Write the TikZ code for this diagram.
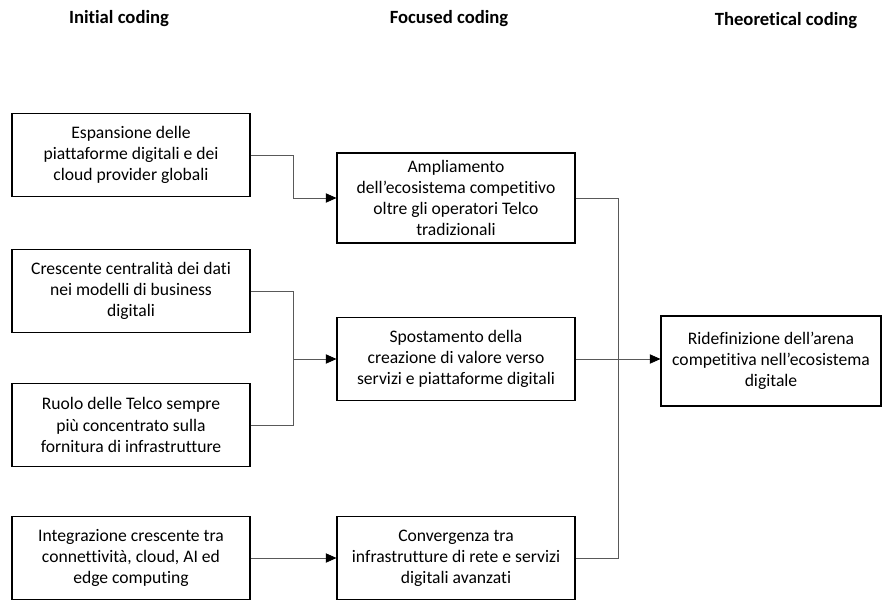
\documentclass[tikz,border=0pt]{standalone}
\usepackage{fontspec}
\setmainfont{Carlito}[Ligatures=NoCommon]
\usetikzlibrary{arrows.meta}

\begin{document}
\begin{tikzpicture}[x=0.75pt,y=-0.75pt,
  box/.style={draw, thick, rectangle, align=center,
    minimum width=178.5pt, minimum height=62pt, inner sep=2pt,
    font=\fontsize{13.2}{15.8}\selectfont},
  head/.style={font=\fontsize{14}{16}\selectfont\bfseries},
  link/.style={draw=black!65, line width=0.6pt},
  arr/.style={link, -{Triangle[length=8pt,width=7pt,color=black]}}]
\useasboundingbox (0,0) rectangle (885,608);

% column titles
\node[head] (h1) at (119,19) {Initial coding};
\node[head] (h2) at (449,19) {Focused coding};
\node[head] (h3) at (786,21) {Theoretical coding};

% initial coding
\node[box] (A1) at (131,155) {Espansione delle\\piattaforme digitali e dei\\cloud provider globali};
\node[box] (A2) at (131,291) {Crescente centralità dei dati\\nei modelli di business\\digitali};
\node[box] (A3) at (131,425) {Ruolo delle Telco sempre\\più concentrato sulla\\fornitura di infrastrutture};
\node[box] (A4) at (131,558) {Integrazione crescente tra\\connettività, cloud, AI ed\\edge computing};

% focused coding
\node[box, minimum height=67.5pt] (B1) at (456,198) {Ampliamento\\dell’ecosistema competitivo\\oltre gli operatori Telco\\tradizionali};
\node[box] (B2) at (456,359) {Spostamento della\\creazione di valore verso\\servizi e piattaforme digitali};
\node[box] (B3) at (456,558) {Convergenza tra\\infrastrutture di rete e servizi\\digitali avanzati};

% theoretical coding
\node[box, minimum width=165pt, minimum height=67.5pt] (C) at (771,361) {Ridefinizione dell’arena\\competitiva nell’ecosistema\\digitale};

\coordinate (j1) at (293,0);
\coordinate (j2) at (618,0);

\draw[arr] (A1.east) -- (A1.east -| j1) |- (B1.west);
\draw[link] (A2.east) -| (B2.west -| j1);
\draw[link] (A3.east) -| (B2.west -| j1);
\draw[arr] (B2.west -| j1) -- (B2.west);
\draw[arr] (A4.east) -- (B3.west);

\draw[link] (B1.east) -- (B1.east -| j2) -- (B3.east -| j2) -- (B3.east);
\draw[arr] (B2.east) -- (B2.east -| C.west);
\end{tikzpicture}
\end{document}
